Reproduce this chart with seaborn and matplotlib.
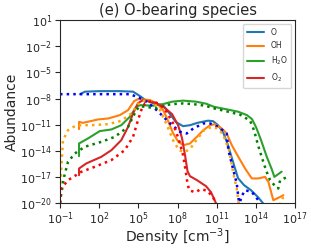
"""
Abondances des espèces oxygénées en fonction de la densité.
"""
import numpy as np
import matplotlib
matplotlib.use("Agg")
import matplotlib.pyplot as plt
import seaborn as sns

sns.set_style("ticks")
plt.rcParams['font.family'] = ['DejaVu Sans']

# valeurs en log10 (densité, abondance)
# --- O ---
o_solid_n = [0.53, 0.91, 2.06, 3.59, 4.59, 5.13, 5.59, 6.12, 6.89, 7.42, 7.88, 8.42, 8.95, 9.57,
             10.33, 10.72, 11.10, 11.48, 11.86, 12.25, 12.63, 13.09, 13.62, 14.16, 14.54]
o_solid_a = [-7.50, -7.21, -7.15, -7.15, -7.21, -7.73, -8.24, -8.53, -8.76, -9.79, -10.71, -11.17, -11.06, -10.77,
             -10.54, -10.60, -11.06, -11.86, -13.35, -15.30, -17.14, -17.94, -18.52, -19.32, -20.01]
o_dot_n = [-1.0, 4.36, 5.13, 5.66, 6.12, 6.66, 7.42, 8.19, 8.70, 9.21, 9.97, 10.49, 11.12, 11.76,
           11.89, 12.27, 12.53, 12.65, 12.74, 12.86, 13.17, 13.68, 14.18, 14.31]
o_dot_a = [-7.50, -7.50, -7.96, -8.41, -8.95, -9.71, -10.86, -11.82, -12.01, -11.43, -10.86, -10.86, -11.25, -12.01,
           -13.93, -16.22, -17.75, -19.29, -20.35, -19.32, -18.52, -18.71, -19.67, -20.10]

# --- OH ---
oh_solid_n = [0.455, 0.455, 0.76, 1.91, 2.68, 3.57, 4.21, 4.67, 4.97, 5.89, 6.43, 6.89, 7.19, 7.65, 8.06,
              8.44, 8.95, 9.47, 9.97, 10.49, 10.87, 11.38, 11.76, 12.15, 12.65, 13.17, 13.68, 14.18,
              14.70, 14.95, 15.33, 15.85, 16.10]
oh_solid_a = [-11.51, -10.68, -10.79, -10.40, -10.29, -9.91, -9.33, -8.30, -8.07, -8.18, -8.59, -9.33, -10.25, -11.97, -12.97,
              -13.35, -13.16, -12.40, -11.63, -11.06, -10.94, -11.43, -12.01, -13.35, -14.69, -16.03, -17.17, -17.17,
              -16.99, -17.56, -19.67, -19.29, -19.09]
oh_dot_n = [-1.0, -0.9, -0.77, -0.39, 0.13, 0.63, 1.40, 2.68, 3.69, 4.46, 4.97, 5.43, 6.04, 6.66, 7.19, 7.65,
            8.11, 8.57, 9.03, 9.49, 10.03, 10.56, 11.02, 11.48, 11.94, 12.27, 12.53, 12.65, 12.71,
            15.78, 16.07, 16.38]
oh_dot_a = [-20.0, -15.84, -12.78, -11.63, -11.17, -11.06, -11.06, -10.94, -10.56, -9.71, -8.64, -8.24, -8.30, -9.33, -11.06, -12.78,
            -13.93, -14.15, -13.64, -12.66, -11.63, -11.29, -11.40, -12.09, -13.93, -16.60, -18.32, -19.67, -20.35,
            -20.35, -19.36, -19.29]

# --- H2O ---
h2o_solid_n = [0.455, 0.455, 1.14, 2.04, 2.93, 3.69, 4.34, 4.84, 5.13, 6.12, 6.89, 7.58, 8.42, 9.41, 10.18,
               10.79, 11.79, 12.63, 13.32, 13.70, 14.01, 14.39, 14.83, 15.21, 15.41, 15.97]
h2o_solid_a = [-14.61, -13.16, -12.58, -11.74, -11.55, -11.06, -10.10, -8.95, -8.76, -8.82, -8.64, -8.36, -8.24, -8.36, -8.59,
               -8.95, -9.25, -9.51, -9.91, -10.37, -11.29, -12.78, -14.69, -16.11, -16.99, -16.39]
h2o_dot_n = [-1.0, -0.92, -0.69, -0.39, 0.13, 0.89, 2.16, 3.19, 4.21, 4.84, 5.13, 5.66, 6.43, 7.04, 7.65, 8.42,
             9.18, 10.10, 10.87, 11.86, 12.78, 13.55, 13.85, 14.16, 14.47, 14.77, 15.08, 15.54, 15.71, 15.85, 16.36]
h2o_dot_a = [-20.0, -19.09, -16.99, -15.27, -14.31, -13.54, -12.97, -12.40, -11.25, -9.33, -8.87, -8.99, -9.10, -8.76, -8.64, -8.56,
             -8.64, -8.82, -9.16, -9.51, -9.85, -10.54, -11.63, -13.35, -14.84, -16.22, -17.37, -18.17, -18.32, -17.37, -17.03]

# --- O2 ---
o2_solid_n = [0.455, 0.455, 1.01, 2.16, 2.93, 3.69, 4.21, 4.59, 4.97, 5.36, 6.27, 7.04, 7.58, 8.04, 8.34,
              8.57, 8.76, 8.95, 9.49, 10.18, 10.56, 10.94, 11.02]
o2_solid_a = [-16.80, -16.03, -15.45, -14.69, -13.93, -12.78, -11.25, -9.71, -8.53, -8.18, -8.47, -9.10, -9.79, -11.06, -12.55,
              -14.50, -16.34, -16.91, -17.37, -18.06, -18.75, -20.01, -20.35]
o2_dot_n = [-1.0, -0.9, -0.39, 0.63, 1.65, 2.93, 3.95, 4.59, 4.97, 5.22, 5.51, 6.04, 6.66, 7.17, 7.65, 8.11,
            8.42, 8.61, 8.72, 8.88, 9.34, 9.80, 10.26, 10.72, 11.0]
o2_dot_a = [-20.0, -18.32, -17.37, -16.41, -15.84, -15.07, -13.93, -12.40, -10.48, -9.33, -8.53, -8.30, -8.64, -9.56, -10.83, -12.78,
            -14.50, -16.22, -17.37, -18.52, -18.75, -18.40, -18.58, -19.32, -20.24]

species = ["O", "OH", "H$_2$O", "O$_2$"]
solid_colors = ["tab:blue", "tab:orange", "tab:green", "tab:red"]
dot_colors = ["blue", "orange", "green", "red"]
solid_curves = [(o_solid_n, o_solid_a), (oh_solid_n, oh_solid_a),
                (h2o_solid_n, h2o_solid_a), (o2_solid_n, o2_solid_a)]
dot_curves = [(o_dot_n, o_dot_a), (oh_dot_n, oh_dot_a),
              (h2o_dot_n, h2o_dot_a), (o2_dot_n, o2_dot_a)]

fig, ax = plt.subplots(figsize=(3.11, 2.48), dpi=100)
fig.subplots_adjust(left=0.193, right=0.949, bottom=0.181, top=0.919)

for (n, a), col, lab in zip(solid_curves, solid_colors, species):
    sns.lineplot(x=10 ** np.array(n), y=10 ** np.array(a), sort=False, estimator=None,
                 color=col, linewidth=1.5, label=lab, ax=ax)
for (n, a), col in zip(dot_curves, dot_colors):
    sns.lineplot(x=10 ** np.array(n), y=10 ** np.array(a), sort=False, estimator=None,
                 color=col, linewidth=1.8, linestyle=":", ax=ax)

ax.set_xscale("log")
ax.set_yscale("log")
ax.set_xlim(1e-1, 1e17)
ax.set_ylim(1e-20, 1e1)
ax.set_xticks([10.0 ** k for k in range(-1, 18, 3)])
ax.set_yticks([10.0 ** k for k in range(-20, 2, 3)])
ax.minorticks_off()
ax.tick_params(labelsize=8, length=3.5, width=0.8, pad=2)
for s in ax.spines.values():
    s.set_linewidth(0.8)

ax.set_title("(e) O-bearing species", fontsize=10.5, pad=4)
ax.set_xlabel("Density [cm$^{-3}$]", fontsize=10, labelpad=-1)
ax.set_ylabel("Abundance", fontsize=10, labelpad=1)
ax.legend(loc="upper right", fontsize=5.5, handlelength=2.3, labelspacing=0.6,
          borderpad=0.5, frameon=True)

fig.savefig("out.png", dpi=100)
